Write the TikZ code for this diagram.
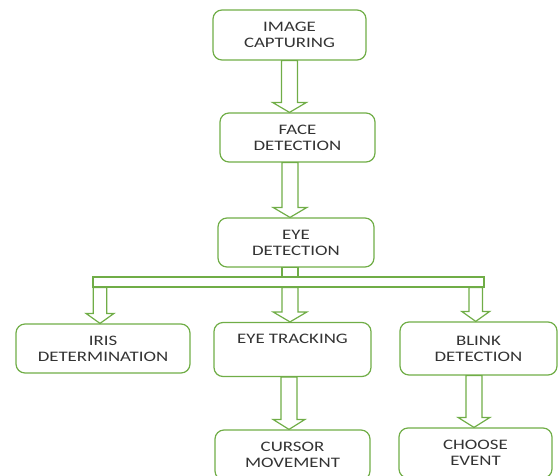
\documentclass[tikz,border=0pt]{standalone}
\usepackage{fontspec}
\setmainfont{Carlito}[FakeStretch=1.3]
\usetikzlibrary{calc}
\definecolor{boxgreen}{RGB}{112,173,71}

% hollow block arrow: x, from node, to node, half shaft, half head
\newcommand{\fatarrow}[5]{%
  \draw[arrowline] let \p1=(#2.south), \p2=(#3.north) in
    (#1pt-#4pt,\y1) -- (#1pt-#4pt,\y2+10pt) -- (#1pt-#5pt,\y2+10pt) -- (#1pt,\y2)
    -- (#1pt+#5pt,\y2+10pt) -- (#1pt+#4pt,\y2+10pt) -- (#1pt+#4pt,\y1) -- cycle;}

\begin{document}
\begin{tikzpicture}[x=1pt,y=-1pt,
  stepbox/.style={color=black!80,draw=boxgreen,line width=1.2pt,shape=rectangle,
    rounded corners=9pt,align=center,inner sep=0pt,
    font=\fontsize{14.5}{16}\selectfont},
  arrowline/.style={draw=boxgreen,line width=1.2pt,line join=miter}]
\useasboundingbox (0,0) rectangle (558,475);

\node[stepbox,minimum width=153pt,minimum height=50pt] (cap) at (289.5,35) {IMAGE\\CAPTURING};
\node[stepbox,minimum width=155pt,minimum height=49pt] (face) at (297.5,137.5) {FACE\\DETECTION};
\node[stepbox,minimum width=156pt,minimum height=49pt] (eye) at (296,242.5) {EYE\\DETECTION};

\node[draw=boxgreen,line width=1.2pt,inner sep=0pt,minimum width=391pt,minimum height=10pt] (bar) at (288.5,282) {};

\node[stepbox,minimum width=174pt,minimum height=49pt] (iris) at (103,348.5) {IRIS\\DETERMINATION};
\node[stepbox,minimum width=157pt,minimum height=54pt] (track) at (292.5,349.5) {EYE TRACKING\\\strut};
\node[stepbox,minimum width=157pt,minimum height=53pt] (blink) at (478.5,348.5) {BLINK\\DETECTION};

\node[stepbox,minimum width=155pt,minimum height=50pt] (cursor) at (292.5,455) {CURSOR\\MOVEMENT};
\node[stepbox,minimum width=153pt,minimum height=50pt] (choose) at (475.5,453) {CHOOSE\\EVENT};

\fatarrow{289.5}{cap}{face}{8}{17}
\fatarrow{290}{face}{eye}{8}{17}
\draw[arrowline] let \p1=(eye.south), \p2=(bar.north) in (282pt,\y1) rectangle (298pt,\y2);
\fatarrow{100}{bar}{iris}{6.7}{14}
\fatarrow{290}{bar}{track}{8}{17}
\fatarrow{475.7}{bar}{blink}{6.7}{14}
\fatarrow{289}{track}{cursor}{8}{16}
\fatarrow{474}{blink}{choose}{8}{16}
\end{tikzpicture}
\end{document}
